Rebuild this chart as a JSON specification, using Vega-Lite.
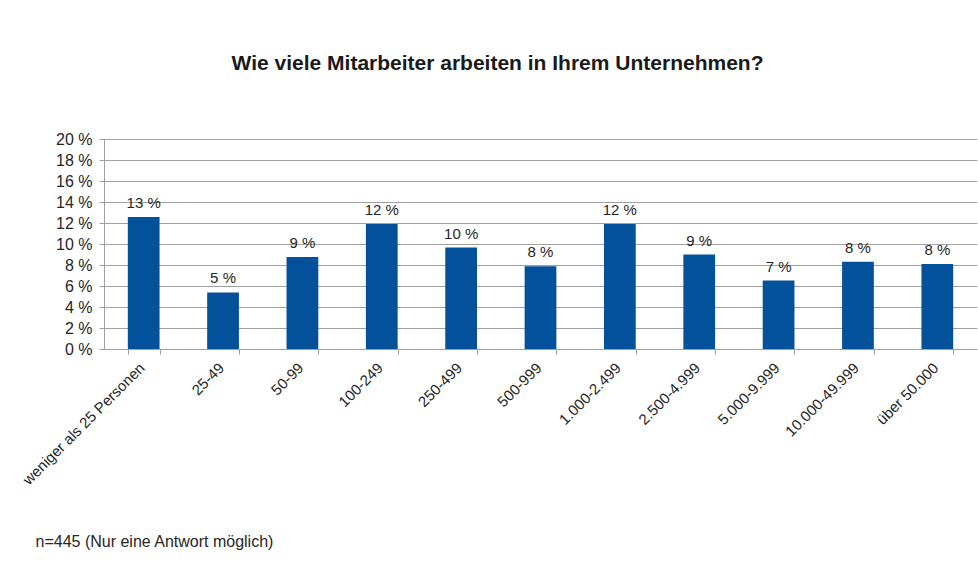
{
  "$schema": "https://vega.github.io/schema/vega-lite/v6.json",
  "width": 873,
  "height": 210,
  "autosize": {"type": "none"},
  "padding": {"left": 104, "top": 139, "right": 1, "bottom": 218},
  "background": "white",
  "title": {
    "text": "Wie viele Mitarbeiter arbeiten in Ihrem Unternehmen?",
    "font": "Liberation Sans",
    "fontSize": 21,
    "fontWeight": "bold",
    "color": "#1a1a1a",
    "anchor": "middle",
    "frame": "group",
    "dx": -43,
    "offset": 57
  },
  "data": {
    "values": [
      {"kategorie": "weniger als 25 Personen", "anteil": 12.58},
      {"kategorie": "25-49", "anteil": 5.39},
      {"kategorie": "50-99", "anteil": 8.76},
      {"kategorie": "100-249", "anteil": 11.91},
      {"kategorie": "250-499", "anteil": 9.66},
      {"kategorie": "500-999", "anteil": 7.87},
      {"kategorie": "1.000-2.499", "anteil": 11.91},
      {"kategorie": "2.500-4.999", "anteil": 8.99},
      {"kategorie": "5.000-9.999", "anteil": 6.52},
      {"kategorie": "10.000-49.999", "anteil": 8.31},
      {"kategorie": "über 50.000", "anteil": 8.09}
    ]
  },
  "transform": [
    {"calculate": "format(datum.anteil, '.0f') + ' %'", "as": "beschriftung"}
  ],
  "config": {
    "view": {"stroke": null},
    "font": "Liberation Sans",
    "axis": {
      "labelFont": "Liberation Sans",
      "titleFont": "Liberation Sans",
      "labelFontSize": 16,
      "labelColor": "#262626",
      "domainColor": "#a0a0a0",
      "tickColor": "#a0a0a0",
      "gridColor": "#a0a0a0"
    }
  },
  "encoding": {
    "x": {
      "field": "kategorie",
      "type": "nominal",
      "sort": null,
      "scale": {"paddingInner": 0.6, "paddingOuter": 0.3},
      "axis": {
        "title": "n=445 (Nur eine Antwort möglich)",
        "titleFontSize": 16,
        "titleFontWeight": "normal",
        "titleColor": "#262626",
        "titleAnchor": "start",
        "titleAngle": 0,
        "titleAlign": "left",
        "titleBaseline": "alphabetic",
        "titleX": -69,
        "titleY": 197,
        "labelFontSize": 15,
        "labelAngle": -45,
        "labelAlign": "right",
        "labelBaseline": "middle",
        "labelPadding": 11,
        "labelOffset": -2,
        "tickBand": "extent",
        "tickSize": 5,
        "labelOverlap": false,
        "grid": false
      }
    },
    "y": {
      "field": "anteil",
      "type": "quantitative",
      "scale": {"domain": [0, 20], "nice": false},
      "axis": {
        "title": null,
        "values": [0, 2, 4, 6, 8, 10, 12, 14, 16, 18, 20],
        "labelExpr": "datum.value + ' %'",
        "tickSize": 5,
        "labelPadding": 7,
        "grid": true
      }
    }
  },
  "layer": [
    {"mark": {"type": "bar", "color": "#02519a"}},
    {
      "mark": {"type": "text", "dy": -9, "baseline": "alphabetic", "fontSize": 15, "color": "#262626", "font": "Liberation Sans"},
      "encoding": {"text": {"field": "beschriftung"}}
    }
  ]
}
